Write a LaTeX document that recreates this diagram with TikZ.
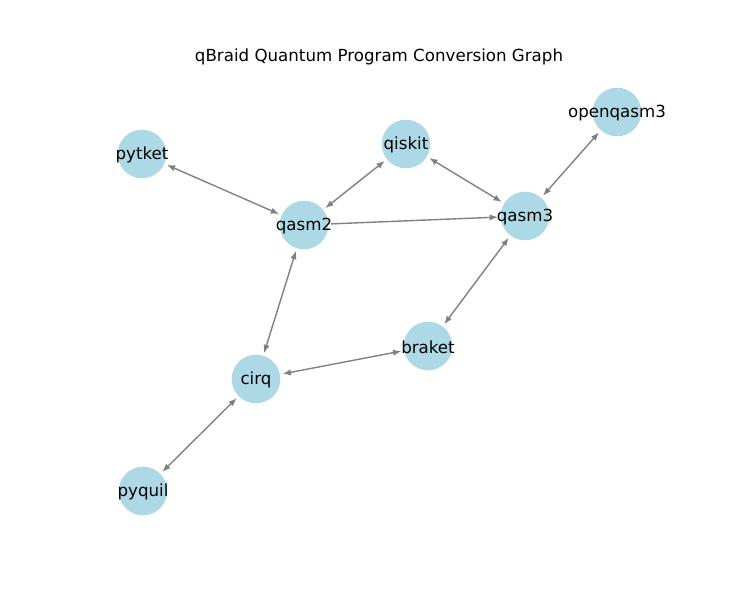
\documentclass[tikz,border=0pt]{standalone}
\usepackage{fontspec}
\setmainfont{DejaVu Sans}
\usetikzlibrary{arrows.meta}
\definecolor{nodeblue}{RGB}{173,216,230}
\definecolor{edgegray}{RGB}{128,128,128}
\begin{document}
\begin{tikzpicture}[x=0.72pt,y=-0.72pt,
  qnode/.style={circle,fill=nodeblue,minimum size=35pt,inner sep=0pt,outer sep=2pt,
    label={[font=\fontsize{12}{14}\selectfont,inner sep=0pt,yshift=-1pt]center:#1}},
  qedge/.style={draw=edgegray,line width=1pt,-{Latex[length=6pt,width=4.5pt]}},
  qboth/.style={draw=edgegray,line width=1pt,{Latex[length=6pt,width=4.5pt]}-{Latex[length=6pt,width=4.5pt]}}]
\useasboundingbox (0,0) rectangle (741,597);
\node[font=\fontsize{12}{14}\selectfont] (title) at (379,57) {qBraid Quantum Program Conversion Graph};
\node[qnode=pytket] (pytket) at (142,154) {};
\node[qnode=qiskit] (qiskit) at (406,144) {};
\node[qnode=openqasm3] (openqasm3) at (617,112) {};
\node[qnode=qasm2] (qasm2) at (304,225) {};
\node[qnode=qasm3] (qasm3) at (525,216) {};
\node[qnode=braket] (braket) at (428,346) {};
\node[qnode=cirq] (cirq) at (256,379) {};
\node[qnode=pyquil] (pyquil) at (143,491) {};
\draw[qboth] (pytket) -- (qasm2);
\draw[qboth] (qasm2) -- (qiskit);
\draw[qboth] (qiskit) -- (qasm3);
\draw[qboth] (openqasm3) -- (qasm3);
\draw[qboth] (qasm3) -- (braket);
\draw[qboth] (braket) -- (cirq);
\draw[qboth] (cirq) -- (qasm2);
\draw[qboth] (cirq) -- (pyquil);
\draw[qedge] (qasm2) -- (qasm3);
\end{tikzpicture}
\end{document}
